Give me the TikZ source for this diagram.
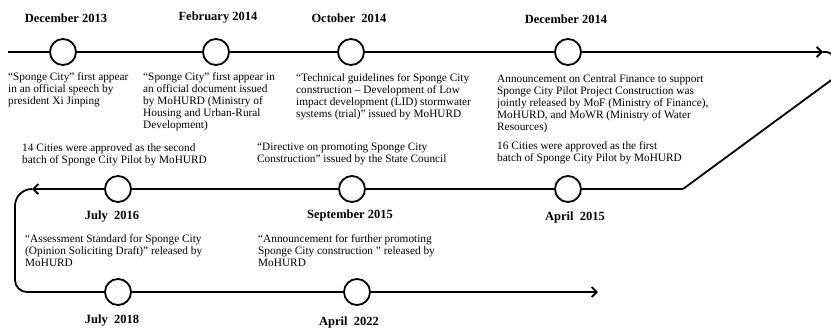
\documentclass[tikz,border=0pt]{standalone}
\usepackage{fontspec}
\setmainfont{Liberation Serif}
\usetikzlibrary{arrows.meta}

\begin{document}
\begin{tikzpicture}[x=1pt, y=-1pt,
    evt/.style={draw, circle, fill=white, line width=1.8pt, minimum size=26pt, inner sep=0pt},
    date/.style={font=\fontsize{12.5}{13}\selectfont\bfseries, inner sep=0pt},
    desc/.style={anchor=north west, align=left, font=\fontsize{11.3}{12.2}\selectfont, inner sep=0pt},
    tl/.style={line width=1.8pt},
    arr/.style={tl, -{Straight Barb[length=5pt, width=10pt]}}
]
\useasboundingbox (0,0) rectangle (831,330);
\clip (0,0) rectangle (831,330);

% first row
\node[evt] (E1) at (63,52) {};
\node[evt] (E2) at (216,52) {};
\node[evt] (E3) at (351,52) {};
\node[evt] (E4) at (568,52) {};
\coordinate (T0) at (8,52);
\coordinate (T5) at (823,52);
\coordinate (R1) at (836,60);
\coordinate (R2) at (845,70);

\node[date] (D1) at (66,18) {December 2013};
\node[date] (D2) at (218,18) {February 2014};
\node[date] (D3) at (349,18) {October\ \ 2014};
\node[date] (D4) at (566,19) {December 2014};

\node[desc] (N1) at (8,72) {“Sponge City” first appear\\in an official speech by\\president Xi Jinping};
\node[desc] (N2) at (143,72) {“Sponge City” first appear in\\an official document issued\\by MoHURD (Ministry of\\Housing and Urban-Rural\\Development)};
\node[desc] (N3) at (296,73) {“Technical guidelines for Sponge City\\construction – Development of Low\\impact development (LID) stormwater\\systems (trial)” issued by MoHURD};
\node[desc] (N4) at (497,74) {Announcement on Central Finance to support\\Sponge City Pilot Project Construction was\\jointly released by MoF (Ministry of Finance),\\MoHURD, and MoWR (Ministry of Water\\Resources)};

% second row
\node[evt] (M1) at (568,189) {};
\node[evt] (M2) at (352,189) {};
\node[evt] (M3) at (118,189) {};
\coordinate (M0) at (683,189);
\coordinate (M4) at (32,189);

\node[date] (D5) at (575,217) {April\ \ 2015};
\node[date] (D6) at (350,215) {September 2015};
\node[date] (D7) at (112,217) {July\ \ 2016};

\node[desc] (N5) at (22,143) {14 Cities were approved as the second\\batch of Sponge City Pilot by MoHURD};
\node[desc] (N6) at (257,143) {“Directive on promoting Sponge City\\Construction” issued by the State Council};
\node[desc] (N7) at (497,141) {16 Cities were approved as the first\\batch of Sponge City Pilot by MoHURD};

% third row
\node[evt] (B1) at (118,292) {};
\node[evt] (B2) at (357,292) {};
\coordinate (L1) at (15,189);
\coordinate (L2) at (15,292);
\coordinate (B3) at (598,292);

\node[date] (D8) at (112,321) {July\ \ 2018};
\node[date] (D9) at (349,322) {April\ \ 2022};

\node[desc] (N8) at (25,234) {“Assessment Standard for Sponge City\\(Opinion Soliciting Draft)” released by\\MoHURD};
\node[desc] (N9) at (258,234) {“Announcement for further promoting\\Sponge City construction ” released by\\MoHURD};

% timeline
\draw[arr] (T0) -- (E1) -- (E2) -- (E3) -- (E4) -- (T5);
\draw[tl] (T5) .. controls (830,52) .. (R1);
\draw[tl] (R2) -- (M0);
\draw[arr] (M0) -- (M1) -- (M2) -- (M3) -- (M4);
\draw[arr] (M4) [rounded corners=17pt] -- (L1) [rounded corners=12pt] -- (L2) -- (B1) -- (B2) -- (B3);
\end{tikzpicture}
\end{document}
